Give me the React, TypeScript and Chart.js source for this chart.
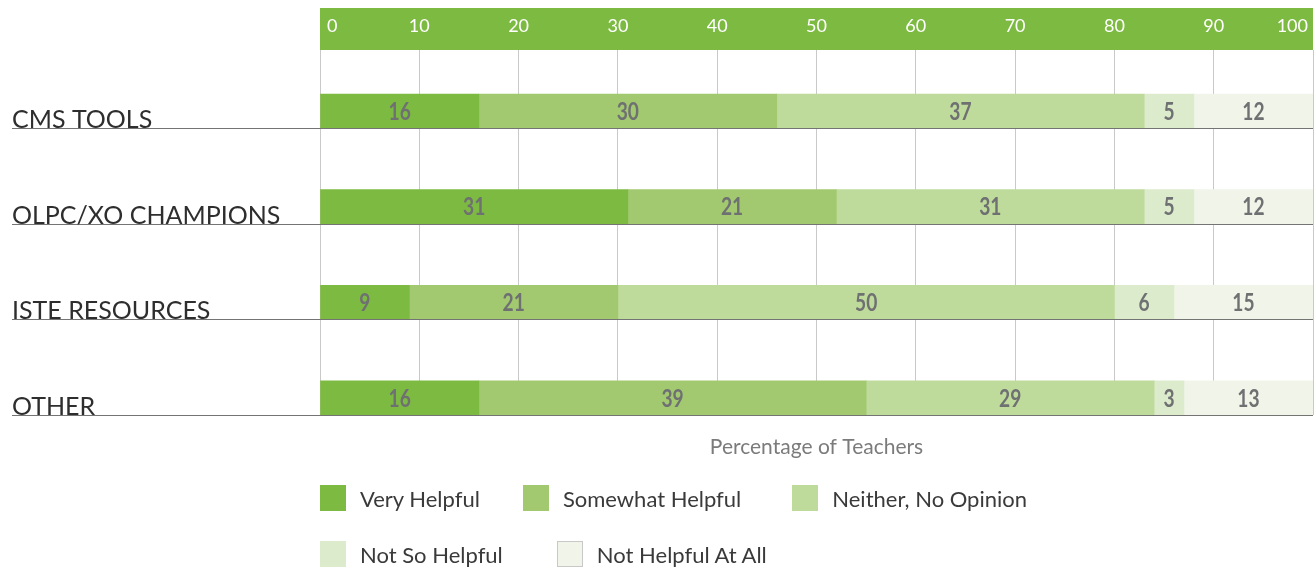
import React, { useEffect, useRef } from "react";
import { Chart, registerables } from "chart.js";

Chart.register(...registerables);

const categories = ["CMS TOOLS", "OLPC/XO CHAMPIONS", "ISTE RESOURCES", "OTHER"];
const seriesNames = ["Very Helpful", "Somewhat Helpful", "Neither, No Opinion", "Not So Helpful", "Not Helpful At All"];
const veryHelpful = [16, 31, 9, 16];
const somewhatHelpful = [30, 21, 21, 39];
const neitherNoOpinion = [37, 31, 50, 29];
const notSoHelpful = [5, 5, 6, 3];
const notHelpfulAtAll = [12, 12, 15, 13];
const seriesColors = ["#7dba41", "#a2c96f", "#bedb9b", "#dcebcc", "#f1f5e9"];
const axisTitle = "Percentage of Teachers";
const xMin = 0;
const xMax = 100;
const xStep = 10;

const seriesValues = [veryHelpful, somewhatHelpful, neitherNoOpinion, notSoHelpful, notHelpfulAtAll];

const BAR_THICKNESS = 34;
const FONT = "Lato, 'Open Sans', 'DejaVu Sans', sans-serif";

const decorPlugin = {
  id: "decor",
  beforeDraw(chart: any) {
    const { ctx, chartArea } = chart;
    ctx.save();
    ctx.fillStyle = "#7dba41";
    ctx.fillRect(chartArea.left, 8, chartArea.right - chartArea.left, chartArea.top - 8);
    // top axis tick labels from the x scale
    const xScale = chart.scales.x;
    ctx.font = `18px ${FONT}`;
    ctx.fillStyle = "#ffffff";
    ctx.textBaseline = "middle";
    const ticks = xScale.ticks;
    ticks.forEach((t: any, k: number) => {
      const px = xScale.getPixelForValue(t.value);
      let x = px;
      if (k === 0) {
        ctx.textAlign = "left";
        x = px + 7;
      } else if (k === ticks.length - 1) {
        ctx.textAlign = "right";
        x = px - 5;
      } else {
        ctx.textAlign = "center";
      }
      ctx.fillText(String(t.value), x, 26);
    });
    ctx.restore();
  },
  afterDatasetsDraw(chart: any) {
    const { ctx, chartArea } = chart;
    const yScale = chart.scales.y;
    ctx.save();
    // value labels (condensed bold)
    ctx.font = `bold 24px ${FONT}`;
    ctx.fillStyle = "#6f7072";
    ctx.textAlign = "center";
    ctx.textBaseline = "middle";
    chart.data.datasets.forEach((ds: any, di: number) => {
      const meta = chart.getDatasetMeta(di);
      meta.data.forEach((el: any, i: number) => {
        const left = Math.min(el.x, el.base);
        const right = Math.min(Math.max(el.x, el.base), chartArea.right);
        ctx.save();
        ctx.translate((left + right) / 2, el.y + 1);
        ctx.scale(0.8, 1);
        ctx.fillText(String(seriesValues[di][i]), 0, 0);
        ctx.restore();
      });
    });
    // category lines and labels
    categories.forEach((cat, i) => {
      const yLine = Math.round(yScale.getPixelForValue(i) + BAR_THICKNESS / 2) + 0.5;
      ctx.strokeStyle = "#747474";
      ctx.lineWidth = 1.2;
      ctx.beginPath();
      ctx.moveTo(12, yLine);
      ctx.lineTo(chartArea.right, yLine);
      ctx.stroke();
      ctx.font = `25px ${FONT}`;
      ctx.fillStyle = "#2e2e2e";
      ctx.textAlign = "left";
      ctx.textBaseline = "alphabetic";
      ctx.fillText(cat, 12, yLine - 1);
    });
    // axis title
    ctx.font = `21px ${FONT}`;
    ctx.fillStyle = "#7b7b7b";
    ctx.textAlign = "center";
    ctx.textBaseline = "middle";
    ctx.fillText(axisTitle, (chartArea.left + chartArea.right) / 2, 447);
    ctx.restore();
  },
};

export default function App() {
  const canvasRef = useRef<HTMLCanvasElement | null>(null);

  useEffect(() => {
    if (!canvasRef.current) return;
    const chart = new Chart(canvasRef.current, {
      type: "bar",
      data: {
        datasets: seriesNames.map((name, si) => ({
          label: name,
          data: categories.map((_, i) => ({ x: seriesValues[si][i], y: i })),
          backgroundColor: seriesColors[si],
          borderWidth: 0,
          barThickness: BAR_THICKNESS,
        })),
      },
      options: {
        indexAxis: "y",
        animation: false,
        responsive: false,
        maintainAspectRatio: false,
        layout: { padding: { top: 8, left: 320, right: 2, bottom: 152 } },
        plugins: { legend: { display: false }, tooltip: { enabled: false } },
        scales: {
          x: {
            type: "linear",
            position: "top",
            min: xMin,
            max: xMax,
            stacked: true,
            afterFit: (scale: any) => {
              scale.height = 42;
              scale.paddingLeft = 0;
              scale.paddingRight = 0;
            },
            ticks: {
              stepSize: xStep,
              display: false,
            },
            grid: { color: "#c9c9c9", lineWidth: 1, drawTicks: false },
            border: { display: false },
          },
          y: {
            type: "linear",
            display: false,
            reverse: true,
            offset: false,
            min: -0.64,
            max: 3.18,
            stacked: true,
            grid: { offset: false },
          },
        },
      },
      plugins: [decorPlugin],
    } as any);
    return () => chart.destroy();
  }, []);

  const legendRows = [
    [0, 1, 2],
    [3, 4],
  ];
  const legendGaps = [43, 51, 0, 54, 0];

  return (
    <div style={{ position: "absolute", left: 0, top: 0, width: 1315, height: 567, background: "#fff", overflow: "hidden" }}>
      <canvas ref={canvasRef} width={1315} height={567} style={{ position: "absolute", left: 0, top: 0, width: 1315, height: 567 }} />
      <div style={{ position: "absolute", left: 320, top: 485, fontFamily: FONT, fontSize: 22, color: "#3a3a3a" }}>
        {legendRows.map((row, ri) => (
          <div key={ri} style={{ display: "flex", alignItems: "center", height: 26, marginBottom: 30, whiteSpace: "nowrap" }}>
            {row.map((si) => (
              <div key={si} style={{ display: "flex", alignItems: "center", marginRight: legendGaps[si] }}>
                <span
                  style={{
                    display: "inline-block",
                    width: 26,
                    height: 26,
                    background: seriesColors[si],
                    boxSizing: "border-box",
                    border: si === 4 ? "1px solid #c8c8c8" : "none",
                    marginRight: 14,
                  }}
                />
                <span>{seriesNames[si]}</span>
              </div>
            ))}
          </div>
        ))}
      </div>
    </div>
  );
}
